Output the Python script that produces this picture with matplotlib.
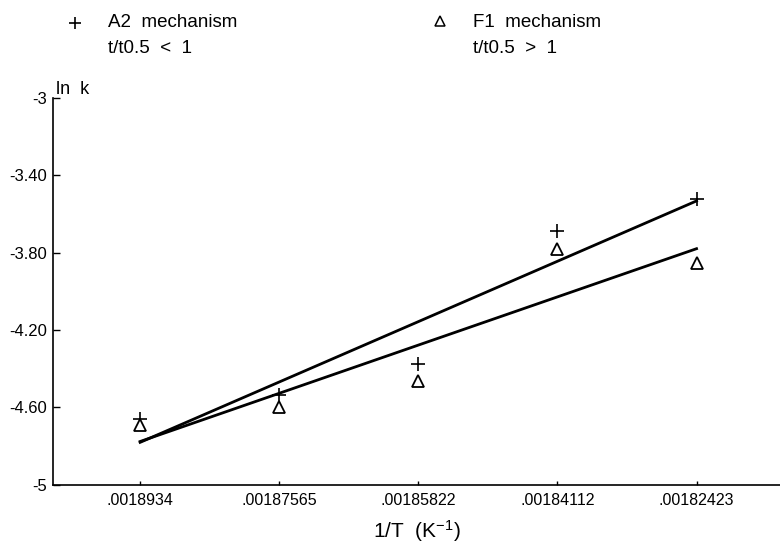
import numpy as np
import matplotlib.pyplot as plt
from matplotlib.lines import Line2D

plt.rcParams['font.family'] = ['Liberation Sans', 'DejaVu Sans']
plt.rcParams['mathtext.fontset'] = 'custom'
plt.rcParams['mathtext.rm'] = 'Liberation Sans'
plt.rcParams['mathtext.it'] = 'Liberation Sans:italic'

# 1/T values (K^-1), plotted at equal spacing as in the original
inv_T = ['.0018934', '.00187565', '.00185822', '.00184112', '.00182423']
# ln k for the two mechanisms
lnk_A2 = [-4.66, -4.535, -4.375, -3.689, -3.524]
lnk_F1 = [-4.69, -4.60, -4.463, -3.782, -3.854]

y_ticks = [-3, -3.4, -3.8, -4.2, -4.6, -5]
y_labels = ['-3', '-3.40', '-3.80', '-4.20', '-4.60', '-5']

x = np.arange(len(inv_T))

fig = plt.figure(figsize=(7.8, 5.43), dpi=100)
ax = fig.add_axes([0.068, 0.107, 0.932, 0.713])

# least squares lines
ends = x[[0, -1]]
for ys in (lnk_A2, lnk_F1):
    p = np.polyfit(x, ys, 1)
    ax.plot(ends, np.polyval(p, ends), color='black', lw=2)

ax.plot(x, lnk_A2, '+', ms=10, mew=1.2, color='black')
ax.plot(x, lnk_F1, '^', ms=8.5, mfc='white', mec='black', mew=1.3)

ax.set_xlim(-0.626, 4.6)
ax.set_ylim(-5, -3)
ax.set_xticks(x, inv_T)
ax.set_yticks(y_ticks, y_labels)
ax.tick_params(axis='x', direction='in', length=3, width=1, labelsize=11.5, pad=6)
ax.tick_params(axis='y', direction='in', length=5, width=1, labelsize=12, pad=4)
for s in ('top', 'right'):
    ax.spines[s].set_visible(False)
for s in ('left', 'bottom'):
    ax.spines[s].set_linewidth(1.2)

ax.text(0.004, 1.0, 'ln  k', transform=ax.transAxes, ha='left', va='bottom', fontsize=13)
ax.set_xlabel('1/T  (K$^{-1}$)', fontsize=15, labelpad=7)

# legend written at the top of the figure
fig.add_artist(Line2D([0.096], [0.958], marker='+', ms=9, mew=1.2, color='black',
                      transform=fig.transFigure))
fig.add_artist(Line2D([0.564], [0.962], marker='^', ms=7, mfc='white', mec='black',
                      mew=1.1, transform=fig.transFigure))
fig.text(0.138, 0.958, 'A2  mechanism', fontsize=13.5, va='center')
fig.text(0.138, 0.911, 't/t0.5  <  1', fontsize=13.5, va='center')
fig.text(0.606, 0.958, 'F1  mechanism', fontsize=13.5, va='center')
fig.text(0.606, 0.911, 't/t0.5  >  1', fontsize=13.5, va='center')

fig.savefig('out.png', dpi=100)
